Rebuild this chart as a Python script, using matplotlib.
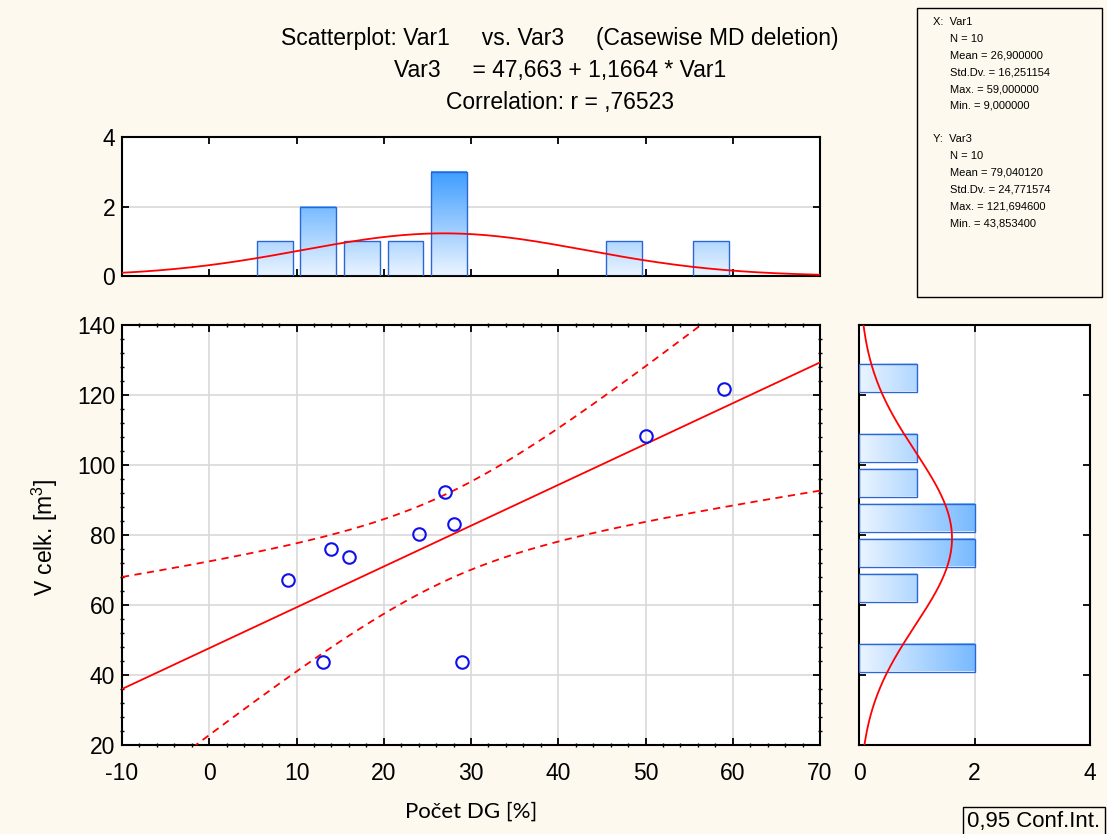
import numpy as np
import matplotlib.pyplot as plt
from matplotlib.colors import LinearSegmentedColormap
from matplotlib.patches import Rectangle
from matplotlib.ticker import MultipleLocator

plt.rcParams['font.family'] = ['Liberation Sans', 'DejaVu Sans']
plt.rcParams['mathtext.default'] = 'regular'
plt.rcParams['axes.unicode_minus'] = False

# data
var1 = [9, 14, 16, 13, 24, 27, 28, 29, 50, 59]
var3 = [67.1, 75.9, 73.6, 43.8534, 80.4, 92.4, 83.2, 43.8534, 108.4, 121.6946]
intercept = 47.663
slope = 1.1664
mean_x, sd_x = 26.9, 16.251154
mean_y, sd_y = 79.04012, 24.771574

top_bins = [7.5, 12.5, 17.5, 22.5, 27.5, 47.5, 57.5]
top_counts = [1, 2, 1, 1, 3, 1, 1]
top_binw = 5
right_bins = [125, 105, 95, 85, 75, 65, 45]
right_counts = [1, 1, 1, 2, 2, 1, 2]
right_binw = 10

title_lines = ['Scatterplot: Var1     vs. Var3     (Casewise MD deletion)',
               'Var3     = 47,663 + 1,1664 * Var1',
               'Correlation: r = ,76523']
stats_x = ['X:  Var1', 'N = 10', 'Mean = 26,900000', 'Std.Dv. = 16,251154',
           'Max. = 59,000000', 'Min. = 9,000000']
stats_y = ['Y:  Var3', 'N = 10', 'Mean = 79,040120', 'Std.Dv. = 24,771574',
           'Max. = 121,694600', 'Min. = 43,853400']

bg = '#fef9ee'
W, H = 1107, 834
fig = plt.figure(figsize=(W / 100, H / 100), dpi=100, facecolor=bg)

def box(l, t, r, b):
    return [l / W, 1 - b / H, (r - l) / W, (b - t) / H]

ax_top = fig.add_axes(box(122, 137, 820, 276))
ax = fig.add_axes(box(122, 325, 820, 745))
ax_r = fig.add_axes(box(859, 325, 1090, 745))

cmap = LinearSegmentedColormap.from_list('bl', ['#eaf4ff', '#3a9bff'])
edge = '#2a66d6'

def style(a):
    a.tick_params(direction='in', length=5, width=1.3, top=True, right=True,
                  labelsize=16.5, pad=5)
    a.tick_params(axis='x', pad=12)
    for s in a.spines.values():
        s.set_linewidth(1.5)

# top histogram
for c, n in zip(top_bins, top_counts):
    w = top_binw * 0.82
    grad = np.linspace(0, n, 50).reshape(-1, 1)
    ax_top.imshow(grad, extent=[c - w / 2, c + w / 2, 0, n], origin='lower',
                  aspect='auto', cmap=cmap, vmin=0, vmax=3.1, zorder=2)
    ax_top.add_patch(Rectangle((c - w / 2, 0), w, n, fill=False,
                               edgecolor=edge, lw=1, zorder=3))
xs = np.linspace(-10, 70, 300)
pdf_x = len(var1) * top_binw * np.exp(-0.5 * ((xs - mean_x) / sd_x) ** 2) / (sd_x * np.sqrt(2 * np.pi))
ax_top.plot(xs, pdf_x, color='red', lw=1.3, zorder=4)
ax_top.set_xlim(-10, 70)
ax_top.set_ylim(0, 4)
ax_top.set_xticks(np.arange(-10, 71, 10))
ax_top.set_yticks([0, 2, 4])
ax_top.set_xticklabels([])
ax_top.axhline(2, color='#d9d9d9', lw=1.2, zorder=1)
style(ax_top)

# scatter
ax.grid(True, color='#d9d9d9', lw=1.2, zorder=0)
ax.set_axisbelow(True)
x = np.array(var1)
y = np.array(var3)
n = len(x)
resid = y - (intercept + slope * x)
s = np.sqrt(np.sum(resid ** 2) / (n - 2))
sxx = np.sum((x - x.mean()) ** 2)
t = 2.306
xl = np.linspace(-10, 70, 300)
yl = intercept + slope * xl
hw = t * s * np.sqrt(1 / n + (xl - x.mean()) ** 2 / sxx)
ax.plot(xl, yl, color='red', lw=1.3, zorder=3)
ax.plot(xl, yl + hw, color='red', lw=1.3, ls=(0, (4, 3)), zorder=3)
ax.plot(xl, yl - hw, color='red', lw=1.3, ls=(0, (4, 3)), zorder=3)
ax.plot(x, y, 'o', mfc='none', mec='#1010ee', mew=1.5, ms=9, zorder=4)
ax.set_xlim(-10, 70)
ax.set_ylim(20, 140)
ax.set_xticks(np.arange(-10, 71, 10))
ax.set_yticks(np.arange(20, 141, 20))
ax.xaxis.set_minor_locator(MultipleLocator(2))
ax.yaxis.set_minor_locator(MultipleLocator(4))
style(ax)
ax.tick_params(which='minor', direction='inout', length=3, width=1, top=True, right=True)

# right histogram
for c, k in zip(right_bins, right_counts):
    h = right_binw * 0.8
    grad = np.linspace(0, k, 50).reshape(1, -1)
    ax_r.imshow(grad, extent=[0, k, c - h / 2, c + h / 2], origin='lower',
                aspect='auto', cmap=cmap, vmin=0, vmax=3.1, zorder=2)
    ax_r.add_patch(Rectangle((0, c - h / 2), k, h, fill=False,
                             edgecolor=edge, lw=1, zorder=3))
ys = np.linspace(20, 140, 300)
pdf_y = len(var3) * right_binw * np.exp(-0.5 * ((ys - mean_y) / sd_y) ** 2) / (sd_y * np.sqrt(2 * np.pi))
ax_r.plot(pdf_y, ys, color='red', lw=1.3, zorder=4)
ax_r.axvline(2, color='#d9d9d9', lw=1.2, zorder=1)
ax_r.set_xlim(0, 4)
ax_r.set_ylim(20, 140)
ax_r.set_xticks([0, 2, 4])
ax_r.set_yticks(np.arange(20, 141, 20))
ax_r.set_yticklabels([])
style(ax_r)

# titles and labels
for i, line in enumerate(title_lines):
    fig.text(560 / W, 1 - (38 + 32 * i) / H, line, ha='center', va='center', fontsize=16.5)
fig.text(471 / W, 1 - 812 / H, 'Počet DG [%]', ha='center', va='center',
         fontsize=16, family=['Lato', 'DejaVu Sans'])
fig.text(45 / W, 1 - 538 / H, 'V celk. [m$^3$]', ha='center', va='center',
         fontsize=16.5, rotation=90)

# stats box
fig.add_artist(Rectangle((917 / W, 1 - 297 / H), 185 / W, 289 / H,
                         transform=fig.transFigure, facecolor=bg,
                         edgecolor='black', lw=1))
for j, block in enumerate([stats_x, stats_y]):
    for i, line in enumerate(block):
        xo = 933 if i == 0 else 950
        yo = 22 + 16.8 * i + 117 * j
        fig.text(xo / W, 1 - yo / H, line, ha='left', va='center', fontsize=8)

fig.text(967 / W, 1 - 822 / H, '0,95 Conf.Int.', ha='left', va='center', fontsize=16,
         bbox=dict(boxstyle='square,pad=0.2', facecolor=bg, edgecolor='black', lw=1))

fig.savefig('out.png', dpi=100, facecolor=bg)
